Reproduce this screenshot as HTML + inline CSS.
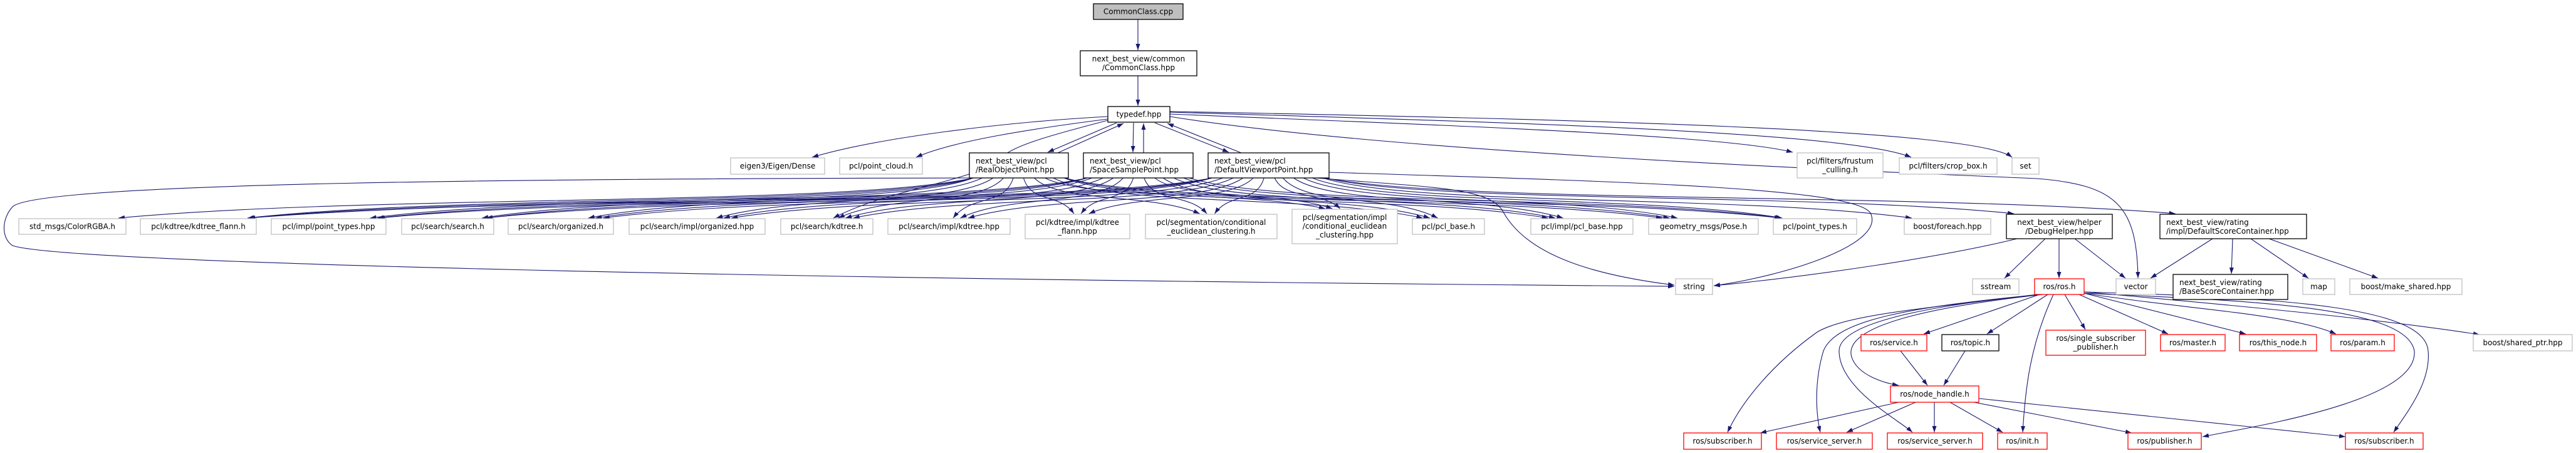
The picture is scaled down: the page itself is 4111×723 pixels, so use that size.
<!DOCTYPE html>
<html><head><meta charset="utf-8"><style>
html,body{margin:0;padding:0;background:#fff;}
svg{display:block;}
text{font-family:"DejaVu Sans","Liberation Sans",sans-serif;font-size:12px;fill:#000;}
.g{fill:#fff;stroke:#bfbfbf;stroke-width:1.3}
.b{fill:#fff;stroke:#000;stroke-width:1.3}
.r{fill:#fff;stroke:#ff0000;stroke-width:1.3}
.f{fill:#bfbfbf;stroke:#000;stroke-width:1.3}
.e{fill:none;stroke:#191970;stroke-width:1.1}
</style></head><body>
<svg id="s" width="4111" height="723" viewBox="0 0 4111 723" xmlns="http://www.w3.org/2000/svg">
<defs><marker id="a" markerUnits="userSpaceOnUse" markerWidth="11" markerHeight="8" refX="10" refY="3.5" orient="auto"><path d="M0,0 L10,3.5 L0,7 z" fill="#191970"/></marker></defs>
<g id="edges"></g>
<g id="static" class="e" marker-end="url(#a)">
<path d="M1816,31 L1816,80"/>
<path d="M1816,121 L1816,169"/>
<path d="M1782,196 L1672,243"/>
<path d="M1688,244 L1793,197"/>
<path d="M1809,196 L1808,243"/>
<path d="M1825,244 L1825,197"/>
<path d="M1843,196 L1961,243"/>
<path d="M1981,244 L1863,197"/>
<path d="M1768,186 C1600,195 1400,220 1296,251"/>
<path d="M1768,190 C1650,205 1520,225 1462,251"/>
<path d="M1768,192 C1700,210 1620,230 1600,250 C1560,290 1420,300 1330,348"/>
<path d="M1867,182 C2300,200 2750,215 2861,243"/>
<path d="M1867,179 C2400,195 2950,210 3050,251"/>
<path d="M1867,178 C2500,190 3150,205 3211,251"/>
<path d="M1867,186 C2200,240 2900,270 3250,285 C3380,295 3410,330 3412,444"/>
<path d="M1560,284 C900,285 60,290 20,330 C2,350 2,380 20,392 C100,420 1200,445 2672,457"/>
<path d="M2100,284 C2300,300 2380,300 2400,340 C2440,410 2550,440 2672,455"/>
<path d="M2121,275 C2600,290 2960,300 2985,340 C3010,390 2850,440 2735,456"/>
<path d="M3219,381 C3100,410 2900,440 2735,456"/>
<path d="M3264,381 L3199,444"/>
<path d="M3286,381 L3286,444"/>
<path d="M3311,381 L3392,444"/>
<path d="M3531,381 L3432,444"/>
<path d="M3563,381 L3561,437"/>
<path d="M3592,381 L3684,444"/>
<path d="M3621,381 L3795,444"/>
<path d="M3250,470 C3100,490 2950,500 2900,530 C2830,580 2780,640 2757,690"/>
<path d="M3255,470 C3050,490 2930,510 2910,560 C2895,610 2898,660 2905,690"/>
<path d="M3258,470 C3050,490 2935,520 2935,560 C2935,620 3030,670 3052,690"/>
<path d="M3260,470 C3080,490 2940,520 2955,570 C2965,600 3010,612 3030,615"/>
<path d="M3255,470 L3070,533"/>
<path d="M3268,470 L3171,533"/>
<path d="M3295,470 L3328,526"/>
<path d="M3318,470 L3460,533"/>
<path d="M3326,468 C3430,495 3530,520 3584,533"/>
<path d="M3326,468 C3500,495 3650,500 3728,533"/>
<path d="M3326,466 C3600,490 3800,510 3957,534"/>
<path d="M3277,470 C3240,550 3232,620 3228,690"/>
<path d="M3326,468 C3600,480 3840,490 3853,560 C3860,640 3600,680 3515,697"/>
<path d="M3326,466 C3650,475 3870,490 3875,560 C3880,610 3840,660 3820,690"/>
<path d="M3030,642 L2809,691"/>
<path d="M3057,642 L2947,690"/>
<path d="M3087,642 L3087,690"/>
<path d="M3112,642 L3196,690"/>
<path d="M3150,642 L3402,691"/>
<path d="M3158,636 L3743,697"/>
<path d="M3033,560 L3076,615"/>
<path d="M3136,560 L3102,615"/>
</g>
<g id="nodes">
<rect class="f" x="1745" y="6" width="143" height="25"/><text x="1816.5" y="22.5" text-anchor="middle">CommonClass.cpp</text>
<rect class="b" x="1724" y="81" width="186" height="40"/><text x="1817" y="98" text-anchor="middle">next_best_view/common</text><text x="1817" y="112" text-anchor="middle">/CommonClass.hpp</text>
<rect class="b" x="1768" y="170" width="99" height="25"/><text x="1817.5" y="186.5" text-anchor="middle">typedef.hpp</text>
<rect class="g" x="1166" y="252" width="150" height="26"/><text x="1241" y="269" text-anchor="middle">eigen3/Eigen/Dense</text>
<rect class="g" x="1340" y="252" width="132" height="26"/><text x="1406" y="269" text-anchor="middle">pcl/point_cloud.h</text>
<rect id="rop" class="b" x="1547" y="244" width="158" height="40"/><text x="1557" y="261">next_best_view/pcl</text><text x="1557" y="275">/RealObjectPoint.hpp</text>
<rect id="ssp" class="b" x="1729" y="244" width="175" height="40"/><text x="1739" y="261">next_best_view/pcl</text><text x="1739" y="275">/SpaceSamplePoint.hpp</text>
<rect id="dvp" class="b" x="1928" y="244" width="193" height="40"/><text x="1938" y="261">next_best_view/pcl</text><text x="1938" y="275">/DefaultViewportPoint.hpp</text>
<rect class="g" x="2868" y="244" width="137" height="40"/><text x="2936.5" y="261" text-anchor="middle">pcl/filters/frustum</text><text x="2936.5" y="275" text-anchor="middle">_culling.h</text>
<rect class="g" x="3031" y="252" width="156" height="26"/><text x="3109" y="269" text-anchor="middle">pcl/filters/crop_box.h</text>
<rect class="g" x="3211" y="252" width="43" height="26"/><text x="3232.5" y="269" text-anchor="middle">set</text>
<rect id="rgba" class="g" x="30" y="349" width="171" height="25"/><text x="115.5" y="365.5" text-anchor="middle">std_msgs/ColorRGBA.h</text>
<rect id="kff" class="g" x="224" y="349" width="185" height="25"/><text x="316.5" y="365.5" text-anchor="middle">pcl/kdtree/kdtree_flann.h</text>
<rect id="pth" class="g" x="433" y="349" width="183" height="25"/><text x="524.5" y="365.5" text-anchor="middle">pcl/impl/point_types.hpp</text>
<rect id="srch" class="g" x="641" y="349" width="147" height="25"/><text x="714.5" y="365.5" text-anchor="middle">pcl/search/search.h</text>
<rect id="org" class="g" x="811" y="349" width="168" height="25"/><text x="895" y="365.5" text-anchor="middle">pcl/search/organized.h</text>
<rect id="orgh" class="g" x="1004" y="349" width="217" height="25"/><text x="1112.5" y="365.5" text-anchor="middle">pcl/search/impl/organized.hpp</text>
<rect id="kd" class="g" x="1246" y="349" width="147" height="25"/><text x="1319.5" y="365.5" text-anchor="middle">pcl/search/kdtree.h</text>
<rect id="kdh" class="g" x="1417" y="349" width="195" height="25"/><text x="1514.5" y="365.5" text-anchor="middle">pcl/search/impl/kdtree.hpp</text>
<rect id="kffh" class="g" x="1636" y="342" width="167" height="39"/><text x="1719.5" y="359" text-anchor="middle">pcl/kdtree/impl/kdtree</text><text x="1719.5" y="373" text-anchor="middle">_flann.hpp</text>
<rect id="ceh" class="g" x="1828" y="342" width="210" height="39"/><text x="1933" y="359" text-anchor="middle">pcl/segmentation/conditional</text><text x="1933" y="373" text-anchor="middle">_euclidean_clustering.h</text>
<rect id="cehpp" class="g" x="2062" y="334" width="168" height="55"/><text x="2146" y="351" text-anchor="middle">pcl/segmentation/impl</text><text x="2146" y="365" text-anchor="middle">/conditional_euclidean</text><text x="2146" y="379" text-anchor="middle">_clustering.hpp</text>
<rect id="pb" class="g" x="2254" y="349" width="115" height="25"/><text x="2311.5" y="365.5" text-anchor="middle">pcl/pcl_base.h</text>
<rect id="pbh" class="g" x="2443" y="349" width="163" height="25"/><text x="2524.5" y="365.5" text-anchor="middle">pcl/impl/pcl_base.hpp</text>
<rect id="pose" class="g" x="2631" y="349" width="175" height="25"/><text x="2718.5" y="365.5" text-anchor="middle">geometry_msgs/Pose.h</text>
<rect id="pt" class="g" x="2830" y="349" width="133" height="25"/><text x="2896.5" y="365.5" text-anchor="middle">pcl/point_types.h</text>
<rect id="fe" class="g" x="3039" y="349" width="138" height="25"/><text x="3108" y="365.5" text-anchor="middle">boost/foreach.hpp</text>
<rect id="dbg" class="b" x="3202" y="342" width="169" height="39"/><text x="3286.5" y="359" text-anchor="middle">next_best_view/helper</text><text x="3286.5" y="373" text-anchor="middle">/DebugHelper.hpp</text>
<rect id="dsc" class="b" x="3447" y="342" width="234" height="39"/><text x="3457" y="359">next_best_view/rating</text><text x="3457" y="373">/impl/DefaultScoreContainer.hpp</text>
<rect class="g" x="2674" y="445" width="59" height="25"/><text x="2703.5" y="461.5" text-anchor="middle">string</text>
<rect class="g" x="3148" y="445" width="74" height="25"/><text x="3185" y="461.5" text-anchor="middle">sstream</text>
<rect class="r" x="3247" y="445" width="79" height="25"/><text x="3286.5" y="461.5" text-anchor="middle">ros/ros.h</text>
<rect class="g" x="3377" y="445" width="63" height="25"/><text x="3408.5" y="461.5" text-anchor="middle">vector</text>
<rect class="b" x="3468" y="438" width="183" height="40"/><text x="3478" y="455">next_best_view/rating</text><text x="3478" y="469">/BaseScoreContainer.hpp</text>
<rect class="g" x="3675" y="445" width="51" height="25"/><text x="3700.5" y="461.5" text-anchor="middle">map</text>
<rect class="g" x="3750" y="445" width="179" height="25"/><text x="3839.5" y="461.5" text-anchor="middle">boost/make_shared.hpp</text>
<rect class="r" x="2970" y="534" width="105" height="26"/><text x="3022.5" y="551" text-anchor="middle">ros/service.h</text>
<rect class="b" x="3099" y="534" width="91" height="26"/><text x="3144.5" y="551" text-anchor="middle">ros/topic.h</text>
<rect class="r" x="3265" y="527" width="159" height="40"/><text x="3344.5" y="544" text-anchor="middle">ros/single_subscriber</text><text x="3344.5" y="558" text-anchor="middle">_publisher.h</text>
<rect class="r" x="3448" y="534" width="103" height="26"/><text x="3499.5" y="551" text-anchor="middle">ros/master.h</text>
<rect class="r" x="3574" y="534" width="123" height="26"/><text x="3635.5" y="551" text-anchor="middle">ros/this_node.h</text>
<rect class="r" x="3720" y="534" width="101" height="26"/><text x="3770.5" y="551" text-anchor="middle">ros/param.h</text>
<rect class="g" x="3947" y="534" width="158" height="26"/><text x="4026" y="551" text-anchor="middle">boost/shared_ptr.hpp</text>
<rect class="r" x="3017" y="616" width="141" height="26"/><text x="3087.5" y="633" text-anchor="middle">ros/node_handle.h</text>
<rect class="r" x="2687" y="691" width="124" height="26"/><text x="2749" y="708" text-anchor="middle">ros/subscriber.h</text>
<rect class="r" x="2835" y="691" width="153" height="26"/><text x="2911.5" y="708" text-anchor="middle">ros/service_server.h</text>
<rect class="r" x="3012" y="691" width="152" height="26"/><text x="3088" y="708" text-anchor="middle">ros/service_server.h</text>
<rect class="r" x="3188" y="691" width="79" height="26"/><text x="3227.5" y="708" text-anchor="middle">ros/init.h</text>
<rect class="r" x="3396" y="691" width="117" height="26"/><text x="3454.5" y="708" text-anchor="middle">ros/publisher.h</text>
<rect class="r" x="3743" y="691" width="124" height="26"/><text x="3805" y="708" text-anchor="middle">ros/subscriber.h</text>
</g>
</svg>
<script>
(function(){
var NS="http://www.w3.org/2000/svg";
function R(id){var r=document.getElementById(id);return{x:+r.getAttribute('x'),y:+r.getAttribute('y'),w:+r.getAttribute('width'),h:+r.getAttribute('height')};}
function cl(v,m){return Math.max(-m,Math.min(m,v));}
var g=document.getElementById('edges');
function down(a,b){
 var A=R(a),B=R(b);var acx=A.x+A.w/2,bcx=B.x+B.w/2,dx=bcx-acx;
 var sx=acx+cl(dx*0.08,A.w/2-6),sy=A.y+A.h;
 var tx=bcx+cl(-dx*0.06,B.w/2-12),ty=B.y;var V=ty-sy;
 var d="M"+sx+","+sy+" C"+(sx+(tx-sx)*0.15)+","+(sy+V*0.7)+" "+(tx-(tx-sx)*0.3)+","+(ty-V*0.6)+" "+tx+","+(ty-1);
 var p=document.createElementNS(NS,'path');p.setAttribute('d',d);p.setAttribute('class','e');p.setAttribute('marker-end','url(#a)');g.appendChild(p);
}
var T=['kff','pth','srch','org','orgh','kd','kdh','kffh','ceh','cehpp','pb','pbh','pose','pt'];
['rop','ssp','dvp'].forEach(function(s){T.forEach(function(t){down(s,t);});});
down('rop','rgba');down('dvp','fe');down('dvp','dbg');down('dvp','dsc');
})();
</script>
</body></html>
